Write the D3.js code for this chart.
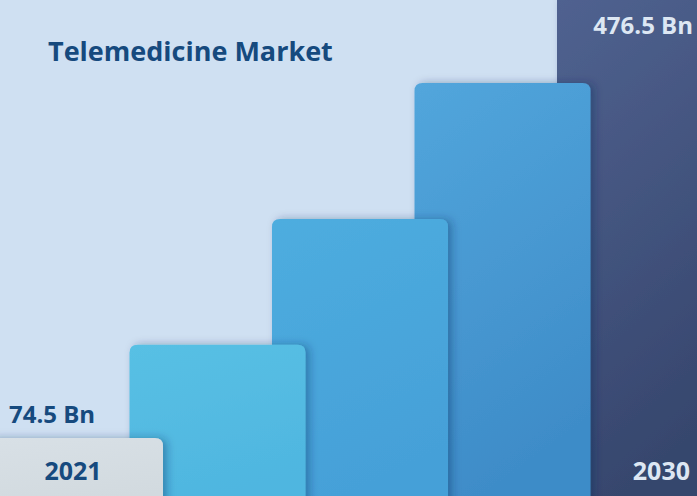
<!DOCTYPE html>
<html>
<head>
<meta charset="utf-8">
<script src="https://cdn.jsdelivr.net/npm/d3@7"></script>
<style>
  body { margin: 0; background: #cfe0f2; }
  svg { display: block; font-family: "Open Sans", sans-serif; }
</style>
</head>
<body>
<svg width="697" height="496"></svg>
<script>
// values (Bn) - only the two ends are labelled in the picture
var years = ["2021", "", "", "", "2030"];
var values = [74.5, 160, 275.5, 400.3, 476.5];
var valueLabels = ["74.5 Bn", "", "", "", "476.5 Bn"];
var topColors = ["#d8e0e6", "#58c0e4", "#4eaddf", "#52a6dc", "#506290"];
var bottomColors = ["#d2dadf", "#4fb6e0", "#45a0d8", "#3e8cc8", "#36466d"];

var svg = d3.select("svg");
var width = +svg.attr("width");
var height = +svg.attr("height");

var xScale = d3.scaleLinear().domain([0, 4]).range([-13, 557]);
var yScale = d3.scaleLinear().domain([74.5, 476.5]).range([438, 0]);
var barW = 176;

var defs = svg.append("defs");
values.forEach(function(v, i){
  var g = defs.append("linearGradient").attr("id", "g" + i)
      .attr("x1", 0).attr("y1", 0).attr("x2", 0.3).attr("y2", 1);
  g.append("stop").attr("offset", "0%").attr("stop-color", topColors[i]);
  g.append("stop").attr("offset", "100%").attr("stop-color", bottomColors[i]);
});
var f = defs.append("filter").attr("id", "shadow")
    .attr("x", "-20%").attr("y", "-20%").attr("width", "140%").attr("height", "140%");
f.append("feDropShadow").attr("dx", 4).attr("dy", 0).attr("stdDeviation", 4)
    .attr("flood-color", "#0b2a5a").attr("flood-opacity", 0.35);

svg.append("rect").attr("width", width).attr("height", height).attr("fill", "#cfe0f2");

function barPath(i, v){
  var x0 = xScale(i), x1 = x0 + barW, y0 = yScale(v), y1 = height + 10;
  var r = Math.min(8, y0);
  return "M" + x0 + "," + y1 + "V" + (y0 + r) +
    "Q" + x0 + "," + y0 + " " + (x0 + r) + "," + y0 +
    "H" + (x1 - r) + "Q" + x1 + "," + y0 + " " + x1 + "," + (y0 + r) +
    "V" + y1 + "Z";
}

// draw last bar first so earlier bars sit on top
var order = d3.range(values.length).reverse();
svg.selectAll("path.bar").data(order).join("path")
    .attr("class", "bar")
    .attr("d", function(i){ return barPath(i, values[i]); })
    .attr("fill", function(i){ return "url(#g" + i + ")"; })
    .attr("filter", "url(#shadow)");

svg.append("text")
    .attr("x", 48).attr("y", 61)
    .attr("font-size", 27).attr("font-weight", 700)
    .attr("fill", "#164a7e")
    .text("Telemedicine Market");

// first bar labels
svg.append("text")
    .attr("x", xScale(0) + 22).attr("y", yScale(values[0]) - 15)
    .attr("font-size", 24).attr("font-weight", 700).attr("fill", "#164a7e")
    .text(valueLabels[0]);
svg.append("text")
    .attr("x", xScale(0) + 86).attr("y", 480).attr("text-anchor", "middle")
    .attr("font-size", 25).attr("font-weight", 700).attr("fill", "#164a7e")
    .text(years[0]);

// last bar labels
svg.append("text")
    .attr("x", 693).attr("y", 34).attr("text-anchor", "end")
    .attr("font-size", 24).attr("font-weight", 700).attr("fill", "#dde7f3")
    .text(valueLabels[4]);
svg.append("text")
    .attr("x", 690).attr("y", 480).attr("text-anchor", "end")
    .attr("font-size", 25).attr("font-weight", 700).attr("fill", "#dde7f3")
    .text(years[4]);
</script>
</body>
</html>
